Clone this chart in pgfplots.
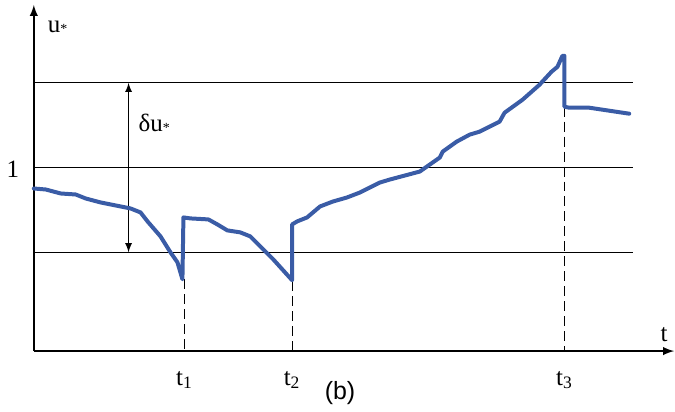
\documentclass[border=0pt]{standalone}
\usepackage{fontspec}
\setmainfont{Liberation Serif}
\newfontfamily\arialfont{Liberation Sans}
\usepackage{pgfplots}
\pgfplotsset{compat=1.18}
\definecolor{curveblue}{RGB}{58,92,166}
\begin{document}
\begin{tikzpicture}
\begin{axis}[
  scale only axis,
  width=321pt, height=173.5pt,
  xmin=0, xmax=642, ymin=0, ymax=347,
  axis lines=left,
  axis line style={line width=0.9pt, -latex},
  xtick=\empty, ytick=\empty,
  clip=false,
  font=\fontsize{12.5}{14}\selectfont,
]
% invisible frame to match the reference extent
\addplot[draw=none, forget plot] coordinates {(-33,-58) (642,352)};
% horizontal reference lines
\addplot[black, line width=0.6pt] coordinates {(0,269) (601,269)};
\addplot[black, line width=0.6pt] coordinates {(0,184) (601,184)};
\addplot[black, line width=0.6pt] coordinates {(0,99) (601,99)};
% delta u arrow
\addplot[black, line width=0.6pt, latex-latex] coordinates {(95,99) (95,269)};
% dashed markers
\addplot[black, line width=0.6pt, dash pattern=on 5pt off 2.5pt] coordinates {(151,72) (151,0)};
\addplot[black, line width=0.6pt, dash pattern=on 5pt off 2.5pt] coordinates {(259,70) (259,0)};
\addplot[black, line width=0.6pt, dash pattern=on 5pt off 2.5pt] coordinates {(532,245) (532,0)};
% curve
\addplot[curveblue, line width=2pt, line join=round, line cap=round] coordinates {
(0,163) (12,162) (27,158) (42,157) (52,153) (67,149) (97,143) (107,139)
(114,130) (127,115) (137,99) (144,89) (149,72)
(150,134) (157,133) (175,132) (184,127) (194,121) (207,119) (217,115)
(225,107) (240,92) (259,71)
(259,127) (264,130) (274,134) (287,145) (300,150) (314,154) (327,159)
(347,169) (357,172) (387,180) (397,187) (407,194) (410,200) (424,210)
(437,217) (447,220) (457,225) (467,230) (472,239) (490,252) (507,267)
(519,280) (525,285) (530,296) (532,296)
(532,245) (537,244) (557,244) (577,241) (597,238)
};
% labels
\node[anchor=west] at (axis cs:7,325) {u\raisebox{-0.1ex}{\scriptsize*}};
\node[anchor=west] at (axis cs:98,228) {δu\raisebox{-0.1ex}{\scriptsize*}};
\node at (axis cs:-21,182) {1};
\node at (axis cs:632,17) {t};
\node at (axis cs:151,-29) {t\textsubscript{1}};
\node at (axis cs:259,-29) {t\textsubscript{2}};
\node at (axis cs:532,-29) {t\textsubscript{3}};
\node at (axis cs:307,-42) {\arialfont\fontsize{12.5}{14}\selectfont (b)};
\end{axis}
\end{tikzpicture}
\end{document}
